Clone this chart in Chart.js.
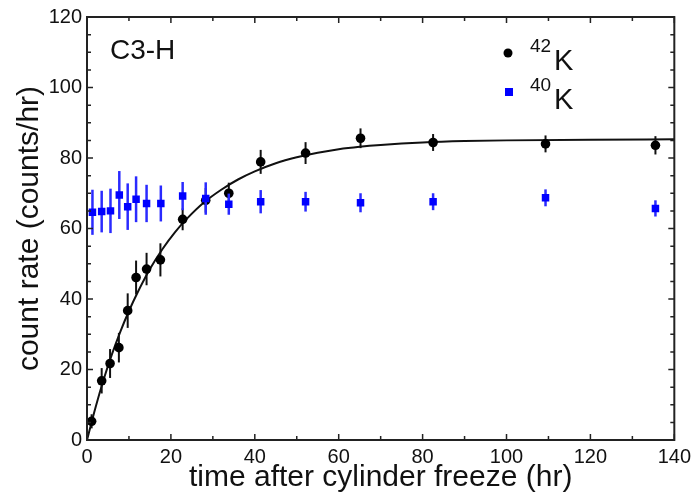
<!DOCTYPE html>
<html>
<head>
<meta charset="utf-8">
<script src="https://cdn.jsdelivr.net/npm/chart.js@4.4.0/dist/chart.umd.min.js"></script>
<style>
  html, body { margin: 0; padding: 0; background: #fff; }
</style>
</head>
<body>
<canvas id="chart" width="696" height="499"></canvas>
<script>
// 42K points (counts/hr) with errors
const k42Time = [1.1, 3.5, 5.5, 7.6, 9.7, 11.7, 14.2, 17.5, 22.8, 28.3, 33.8, 41.4, 52.1, 65.2, 82.5, 109.3, 135.5];
const k42Rate = [5.3, 16.8, 21.7, 26.2, 36.7, 46.1, 48.5, 51.1, 62.6, 68.0, 70.0, 78.9, 81.4, 85.6, 84.4, 84.0, 83.6];
const k42Err = [2.0, 3.6, 4.1, 4.2, 4.9, 4.8, 4.6, 4.7, 3.1, 3.5, 3.0, 3.4, 3.1, 2.8, 2.4, 2.4, 2.6];

// 40K points
const k40Time = [1.3, 3.5, 5.6, 7.7, 9.7, 11.7, 14.2, 17.6, 22.8, 28.3, 33.8, 41.4, 52.1, 65.2, 82.5, 109.3, 135.5];
const k40Rate = [64.6, 64.8, 65.0, 69.5, 66.2, 68.3, 67.1, 67.1, 69.2, 68.5, 66.9, 67.6, 67.6, 67.3, 67.6, 68.7, 65.7];
const k40Err = [6.4, 5.9, 6.3, 6.8, 6.6, 6.5, 5.3, 5.1, 4.0, 4.6, 3.0, 3.3, 2.8, 2.7, 2.4, 2.4, 2.3];

// fitted growth curve
const fitTime = [0, 2, 4, 6, 8, 10, 12, 15, 18, 21, 24, 28, 32, 36, 40, 45, 50, 55, 60, 65, 70, 80, 90, 100, 120, 140];
const fitRate = [0, 9.1, 17.3, 24.5, 30.9, 36.6, 41.7, 48.5, 54.2, 59.0, 63.0, 67.5, 71.0, 73.9, 76.2, 78.5, 80.2, 81.5, 82.5, 83.2, 83.7, 84.4, 84.8, 85.0, 85.2, 85.3];

const xTicks = [0, 20, 40, 60, 80, 100, 120, 140];
const yTicks = [0, 20, 40, 60, 80, 100, 120];

const fontFamily = "'Liberation Sans', Arial, Helvetica, sans-serif";
const pts = (xs, ys) => xs.map((x, i) => ({ x: x, y: ys[i] }));

// vertical error bars drawn just before each dataset's markers
const errorBars = {
    id: "errorBars",
    beforeDatasetDraw(chart, args) {
        const ds = chart.data.datasets[args.index];
        if (!ds.errors) return;
        const { ctx, scales: { x, y } } = chart;
        ctx.save();
        ctx.strokeStyle = ds.errorColor;
        ctx.lineWidth = ds.errorWidth;
        ds.data.forEach((p, i) => {
            const px = x.getPixelForValue(p.x);
            ctx.beginPath();
            ctx.moveTo(px, y.getPixelForValue(p.y - ds.errors[i]));
            ctx.lineTo(px, y.getPixelForValue(p.y + ds.errors[i]));
            ctx.stroke();
        });
        ctx.restore();
    }
};

// frame with inward ticks on all four sides
const frame = {
    id: "frame",
    afterDatasetsDraw(chart) {
        const { ctx, chartArea: a, scales: { x, y } } = chart;
        ctx.save();
        ctx.strokeStyle = "#222";
        ctx.lineWidth = 1.5;
        ctx.beginPath();
        for (let v = 0; v <= 140; v += 10) {
            const px = x.getPixelForValue(v);
            const len = v % 20 === 0 ? 6 : 4;
            ctx.moveTo(px, a.bottom); ctx.lineTo(px, a.bottom - len);
            ctx.moveTo(px, a.top); ctx.lineTo(px, a.top + len);
        }
        for (let v = 0; v <= 120; v += 5) {
            const py = y.getPixelForValue(v);
            const len = v % 20 === 0 ? 6 : 4;
            ctx.moveTo(a.left, py); ctx.lineTo(a.left + len, py);
            ctx.moveTo(a.right, py); ctx.lineTo(a.right - len, py);
        }
        ctx.stroke();
        ctx.lineWidth = 2;
        ctx.strokeRect(a.left, a.top, a.right - a.left, a.bottom - a.top);
        ctx.restore();
    }
};

// label and legend with superscript mass numbers
const annotations = {
    id: "annotations",
    afterDraw(chart) {
        const ctx = chart.ctx;
        ctx.save();
        ctx.fillStyle = "#111";
        ctx.textBaseline = "alphabetic";
        ctx.font = "28px " + fontFamily;
        ctx.fillText("C3-H", 110, 59);

        const rows = [
            { mass: "42", y: 70, marker: "circle" },
            { mass: "40", y: 109, marker: "square" }
        ];
        rows.forEach(r => {
            if (r.marker === "circle") {
                ctx.fillStyle = "#000";
                ctx.beginPath();
                ctx.arc(508, r.y - 17, 4.5, 0, Math.PI * 2);
                ctx.fill();
            } else {
                ctx.fillStyle = "#0000ff";
                ctx.fillRect(505, r.y - 21, 8, 8);
            }
            ctx.fillStyle = "#111";
            ctx.font = "19px " + fontFamily;
            ctx.fillText(r.mass, 530, r.y - 18);
            ctx.font = "29px " + fontFamily;
            ctx.fillText("K", 554, r.y);
        });
        ctx.restore();
    }
};

new Chart(document.getElementById("chart"), {
    type: "scatter",
    data: {
        datasets: [
            {
                label: "40K",
                data: pts(k40Time, k40Rate),
                errors: k40Err,
                errorColor: "#2a2aff",
                errorWidth: 2.5,
                pointStyle: "rect",
                pointRadius: 5.3,
                backgroundColor: "#0000ff",
                borderWidth: 0,
                order: 0
            },
            {
                label: "42K",
                data: pts(k42Time, k42Rate),
                errors: k42Err,
                errorColor: "#111",
                errorWidth: 2,
                pointStyle: "circle",
                pointRadius: 4.8,
                backgroundColor: "#000",
                borderWidth: 0,
                order: 1
            },
            {
                type: "line",
                label: "fit",
                data: pts(fitTime, fitRate),
                borderColor: "#111",
                borderWidth: 2,
                pointRadius: 0,
                cubicInterpolationMode: "monotone",
                fill: false,
                order: 2
            }
        ]
    },
    options: {
        responsive: false,
        animation: false,
        devicePixelRatio: 1,
        layout: { padding: { top: 15, right: 20, left: 0, bottom: 0 } },
        plugins: {
            legend: { display: false },
            tooltip: { enabled: false }
        },
        scales: {
            x: {
                type: "linear",
                min: 0,
                max: 140,
                afterBuildTicks: s => { s.ticks = xTicks.map(v => ({ value: v })); },
                afterFit: s => { s.height = 59; },
                grid: { display: false, drawTicks: false },
                border: { display: false },
                ticks: { color: "#111", font: { family: fontFamily, size: 20 }, padding: 5, maxRotation: 0 },
                title: {
                    display: true,
                    text: "time after cylinder freeze (hr)",
                    color: "#111",
                    font: { family: fontFamily, size: 30 },
                    padding: { top: 0, bottom: 3 }
                }
            },
            y: {
                type: "linear",
                min: 0,
                max: 120,
                afterBuildTicks: s => { s.ticks = yTicks.map(v => ({ value: v })); },
                afterFit: s => { s.width = 87; },
                grid: { display: false, drawTicks: false },
                border: { display: false },
                ticks: { color: "#111", font: { family: fontFamily, size: 20 }, padding: 5 },
                title: {
                    display: true,
                    text: "count rate (counts/hr)",
                    color: "#111",
                    font: { family: fontFamily, size: 30 },
                    padding: { top: 12, bottom: 0 }
                }
            }
        }
    },
    plugins: [errorBars, frame, annotations]
});
</script>
</body>
</html>
